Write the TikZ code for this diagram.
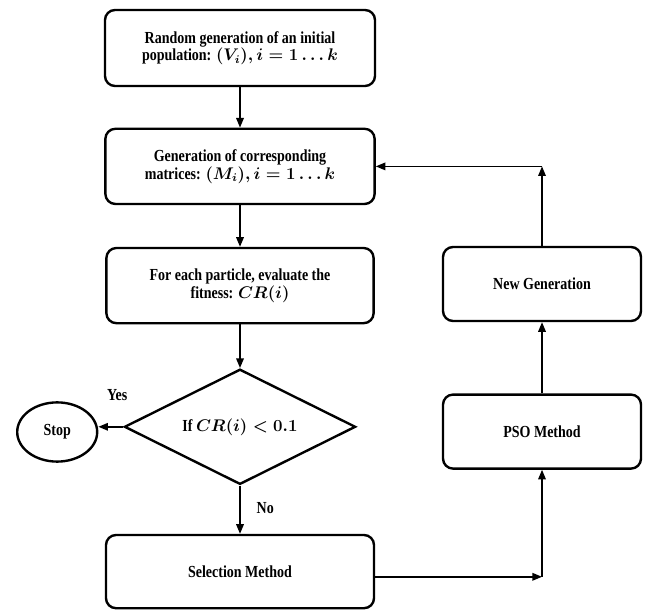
\documentclass[tikz,border=0pt]{standalone}
\usepackage{amsmath,amssymb}
\usepackage{fontspec}
\setmainfont[FakeStretch=0.83]{Liberation Serif}
\usetikzlibrary{arrows.meta,shapes.geometric}

\begin{document}
\begin{tikzpicture}[>={Triangle[length=2.4mm,width=1.9mm]},
  box/.style={draw,line width=1.7pt,rounded corners=2.5mm,align=center,
    font=\fontsize{12}{12.5}\selectfont\bfseries\boldmath},
  lbl/.style={font=\fontsize{12}{12.5}\selectfont\bfseries},
  conn/.style={->,line width=1pt}]
  \useasboundingbox (0,0) rectangle (16.15,15.25);
  \node[box,minimum width=6.75cm,minimum height=1.9cm] (init) at (6,14.05)
    {Random generation of an initial\\population: $(V_i), i = 1 \dots k$};
  \node[box,minimum width=6.73cm,minimum height=1.88cm] (gen) at (6,11.09)
    {Generation of corresponding\\matrices: $(M_i), i = 1 \dots k$};
  \node[box,minimum width=6.68cm,minimum height=1.88cm] (fit) at (6,8.11)
    {For each particle, evaluate the\\fitness: $CR(i)$};
  \node[box,shape=diamond,rounded corners=0pt,aspect=2,minimum width=5.78cm,minimum height=2.88cm] (cond) at (6,4.58)
    {If $CR(i) < 0.1$};
  \node[box,shape=ellipse,rounded corners=0pt,minimum width=2cm,minimum height=1.48cm] (stop) at (1.43,4.45) {Stop};
  \node[box,minimum width=6.7cm,minimum height=1.83cm] (sel) at (6,0.96) {Selection Method};
  \node[box,minimum width=4.95cm,minimum height=1.85cm] (pso) at (13.55,4.46) {PSO Method};
  \node[box,minimum width=4.95cm,minimum height=1.85cm] (ngen) at (13.55,8.15) {New Generation};
  \coordinate (c1) at (13.55,0.83);
  \coordinate (c2) at (13.55,11.09);
  \draw[conn] (init) -- (gen);
  \draw[conn] (gen) -- (fit);
  \draw[conn] (fit) -- (cond);
  \draw[conn] (cond.west) -- (cond.west -| stop.east);
  \draw[conn] (cond) -- (sel);
  \draw[conn] (sel.east |- c1) -- (c1);
  \draw[conn] (c1) -- (pso);
  \draw[conn] (pso) -- (ngen);
  \draw[conn] (ngen) -- (c2);
  \draw[conn] (c2) -- (gen);
  \node[lbl] at (2.93,5.38) {Yes};
  \node[lbl] at (6.63,2.55) {No};
\end{tikzpicture}
\end{document}
